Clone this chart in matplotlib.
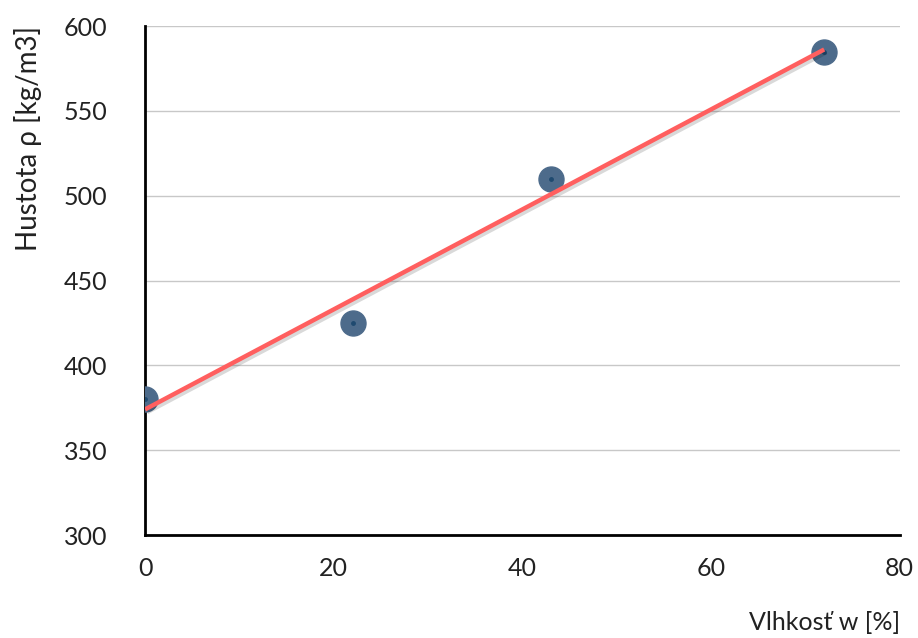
import numpy as np
import matplotlib.pyplot as plt
import matplotlib.patheffects as pe

# data
vlhkost = [0, 22, 43, 72]
hustota = [380, 425, 510, 585]

plt.rcParams['font.family'] = ['Lato', 'DejaVu Sans']

fig = plt.figure(figsize=(9.18, 6.38), dpi=100)
ax = fig.add_axes([0.158, 0.1614, 0.822, 0.7976])

# body points
ax.plot(vlhkost, hustota, 'o', ms=18, color='#4d6b8b', zorder=3)
ax.plot(vlhkost, hustota, 'o', ms=2.5, color='#1f4a70', zorder=4)

# linear trend line
k, q = np.polyfit(vlhkost, hustota, 1)
xs = np.array([min(vlhkost), max(vlhkost)])
ax.plot(xs, k * xs + q, color='#ff5f5f', lw=3.2, solid_capstyle='butt', zorder=5,
        path_effects=[pe.SimpleLineShadow(offset=(1.5, -2), alpha=0.15), pe.Normal()])

ax.set_xlim(0, 80)
ax.set_ylim(300, 600)
ax.set_xticks([0, 20, 40, 60, 80])
ax.set_yticks(range(300, 601, 50))
ax.grid(axis='y', color='#c8c8c8', lw=1)
ax.set_axisbelow(True)

for s in ['top', 'right']:
    ax.spines[s].set_visible(False)
ax.spines['left'].set_linewidth(2)
ax.spines['bottom'].set_linewidth(2)
ax.tick_params(axis='both', length=0, labelsize=18, colors='#222222')
ax.tick_params(axis='x', pad=16)
ax.tick_params(axis='y', pad=27)

ax.set_ylabel('Hustota ρ [kg/m3]', fontsize=20, color='#222222', loc='top', labelpad=16)
ax.set_xlabel('Vlhkosť w [%]', fontsize=18, color='#222222', loc='right', labelpad=22)

fig.savefig('out.png', dpi=100)
